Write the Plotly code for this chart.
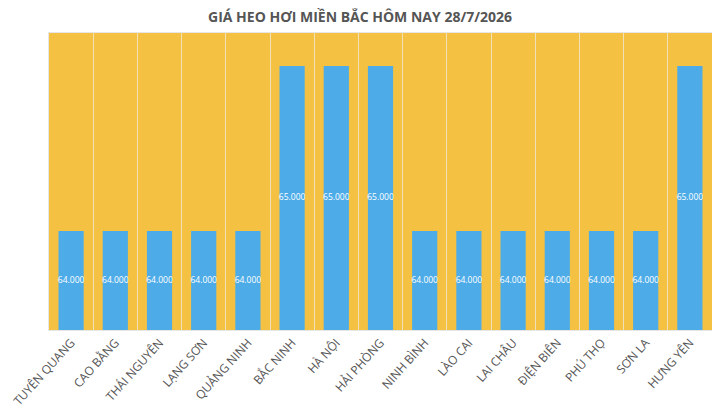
import plotly.graph_objects as go

provinces = [
    "TUYÊN QUANG", "CAO BẰNG", "THÁI NGUYÊN", "LẠNG SƠN", "QUẢNG NINH",
    "BẮC NINH", "HÀ NỘI", "HẢI PHÒNG", "NINH BÌNH", "LÀO CAI",
    "LAI CHÂU", "ĐIỆN BIÊN", "PHÚ THỌ", "SƠN LA", "HƯNG YÊN",
]
prices = [
    64000, 64000, 64000, 64000, 64000,
    65000, 65000, 65000, 64000, 64000,
    64000, 64000, 64000, 64000, 65000,
]
price_labels = [f"{p:,}".replace(",", ".") for p in prices]

y_min, y_max = 63400, 65200
label_y = [(y_min + p) / 2 for p in prices]

# page body has an 8px margin, so the figure is a bit smaller than the window
W, H = 712, 410

fig = go.Figure()
fig.add_trace(
    go.Bar(
        x=provinces,
        y=prices,
        marker=dict(color="#4DACE8", line=dict(width=0)),
        width=0.57,
        hoverinfo="x+y",
    )
)
# value labels in the middle of each bar
fig.add_trace(
    go.Scatter(
        x=provinces,
        y=label_y,
        mode="text",
        text=price_labels,
        textfont=dict(color="white", size=8.5, family="Open Sans"),
        hoverinfo="skip",
    )
)

fig.update_layout(
    width=W,
    height=H,
    autosize=False,
    margin=dict(l=41, r=8, t=25, b=88),
    paper_bgcolor="white",
    plot_bgcolor="#F4C142",
    showlegend=False,
    title=dict(
        text="<b>GIÁ HEO HƠI MIỀN BẮC HÔM NAY 28/7/2026</b>",
        x=(360 - 8) / W,
        xanchor="center",
        xref="container",
        y=1 - 9.5 / H,
        yanchor="middle",
        font=dict(family="Open Sans", size=14, color="#555555"),
    ),
)

fig.update_xaxes(
    type="category",
    range=[-0.5, len(provinces) - 0.5],
    automargin=False,
    tickson="boundaries",
    showgrid=True,
    gridcolor="rgba(240,232,215,0.8)",
    gridwidth=1,
    ticks="",
    tickangle=-48,
    tickfont=dict(family="Open Sans", size=12, color="#555555"),
    showline=True,
    linecolor="#e6e6e6",
    mirror=True,
)
fig.update_yaxes(
    range=[y_min, y_max],
    automargin=False,
    showgrid=False,
    showticklabels=False,
    zeroline=False,
    showline=True,
    linecolor="#e6e6e6",
    mirror=True,
)

fig.write_html("out.html")
